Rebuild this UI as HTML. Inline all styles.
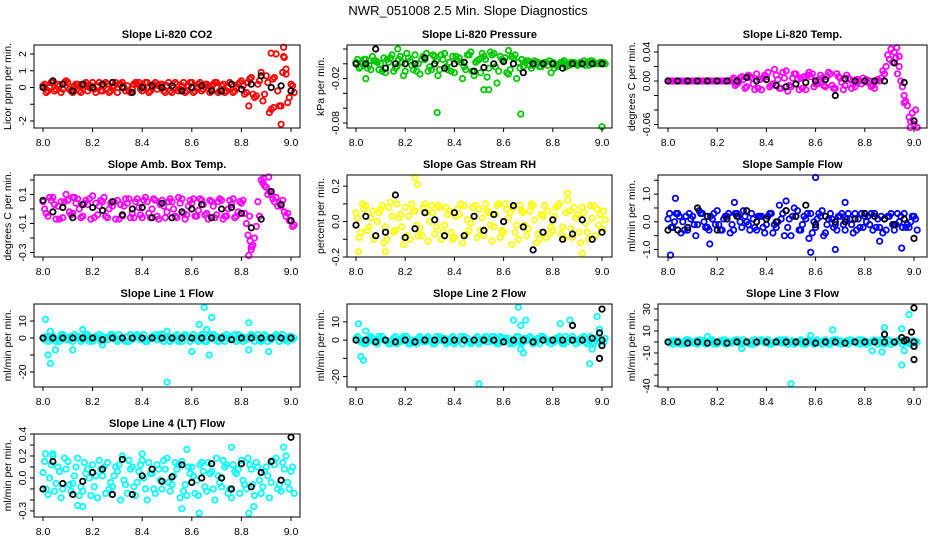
<!DOCTYPE html>
<html><head><meta charset="utf-8"><style>
html,body{margin:0;padding:0;background:#fff;}
svg{display:block;font-family:"Liberation Sans",sans-serif;}
</style></head><body>
<svg id="chart" width="936" height="540" viewBox="0 0 936 540" xmlns="http://www.w3.org/2000/svg">
<rect width="936" height="540" fill="#fff"/>
<text x="468" y="15" text-anchor="middle" font-size="13">NWR_051008  2.5 Min. Slope Diagnostics</text>
</svg>
<script>
const times=[8.00,8.02,8.04,8.06,8.08,8.10,8.12,8.14,8.16,8.18,8.20,8.22,8.24,8.26,8.28,8.30,8.32,8.34,8.36,8.38,8.40,8.42,8.44,8.46,8.48,8.50,8.52,8.54,8.56,8.58,8.60,8.62,8.64,8.66,8.68,8.70,8.72,8.74,8.76,8.78,8.80,8.82,8.84,8.86,8.88,8.90,8.92,8.94,8.96,8.98,9.00];
const blackTimes=[8.00,8.04,8.08,8.12,8.16,8.20,8.24,8.28,8.32,8.36,8.40,8.44,8.48,8.52,8.56,8.60,8.64,8.68,8.72,8.76,8.80,8.84,8.88,8.92,8.96,9.00];
const xTicks=[8.0,8.2,8.4,8.6,8.8,9.0];
const xTickLabels=["8.0","8.2","8.4","8.6","8.8","9.0"];

const co2A=[0.1,-0.2,0.3,0.2,-0.1,0.3,-0.3,0.2,0.1,-0.2,0.3,0.1,-0.2,0.2,0.0,-0.3,0.3,0.1,-0.1,0.2,-0.2,0.3,0.0,-0.1,0.2,0.1,-0.3,0.2,0.1,-0.2,0.3,0.0,-0.2,0.2,-0.1,0.3,0.1,-0.2,0.2,0.0,0.4,-0.3,0.6,-0.5,0.9,0.7,-1.3,2.0,-1.1,0.8,0.2];
const co2B=[-0.3,0.3,-0.1,-0.3,0.4,-0.2,0.2,-0.3,0.3,0.1,-0.3,-0.2,0.3,-0.2,0.3,0.2,-0.2,-0.3,0.3,-0.1,0.3,-0.2,0.3,0.2,-0.3,-0.2,0.3,-0.1,-0.3,0.3,-0.2,0.3,0.2,-0.3,0.3,-0.2,-0.3,0.3,-0.2,0.3,-0.4,0.5,-0.6,0.4,-0.4,-1.5,0.6,-1.1,1.8,-0.6,-0.3];
const co2C=[0.2,0.0,-0.2,0.1,0.3,-0.1,0.1,-0.2,0.2,0.0,-0.1,0.3,0.1,-0.3,0.1,0.2,0.0,-0.2,0.2,0.3,0.0,-0.3,0.2,0.1,-0.2,0.3,0.0,-0.2,0.3,0.1,-0.3,0.2,-0.1,0.1,0.2,-0.3,0.2,0.0,-0.3,0.2,0.1,0.3,-0.4,0.2,-0.8,0.3,0.5,-0.2,0.9,-0.9,0.1];
const co2Black=[0.0,0.4,0.2,-0.2,0.2,0.0,0.2,0.3,0.0,-0.3,0.0,0.1,0.0,0.1,-0.2,0.0,0.1,-0.2,-0.2,0.2,-0.1,0.2,0.7,0.0,0.1,-0.2];
const co2Out=[[8.97,2.4],[8.96,-2.2],[8.92,2.05],[8.83,-1.1],[8.97,1.85],[8.98,1.1],[8.93,-1.2]];

const presA=[0.002,-0.004,0.006,-0.008,0.004,0.000,-0.012,0.008,-0.006,0.010,-0.010,0.004,0.012,-0.014,0.006,-0.004,0.010,-0.008,0.014,0.002,-0.012,0.008,-0.004,0.012,-0.016,0.006,0.010,-0.006,0.014,-0.010,0.004,-0.014,0.008,0.002,-0.004,0.004,-0.002,0.002,0.000,-0.002,0.002,-0.004,0.002,0.000,0.002,-0.002,0.000,0.002,0.004,0.000,0.000];
const presB=[-0.006,0.006,-0.002,0.004,-0.008,0.008,0.002,-0.010,0.006,-0.016,0.008,-0.008,0.000,0.010,-0.010,0.012,-0.016,0.006,-0.008,0.010,0.004,-0.020,0.012,-0.010,0.004,0.014,-0.018,0.012,-0.026,0.006,-0.012,0.010,-0.020,0.006,0.004,-0.006,0.002,-0.004,0.002,-0.012,-0.002,0.002,-0.004,0.002,0.000,0.002,-0.002,0.004,0.000,0.002,0.000];
const presC=[0.006,0.000,-0.006,0.010,0.002,-0.010,0.006,0.012,-0.004,0.002,0.014,-0.002,-0.010,0.006,0.014,-0.008,0.004,0.012,-0.004,-0.010,0.010,0.002,-0.008,0.016,0.002,-0.012,0.006,0.016,-0.004,0.010,0.008,-0.008,0.012,-0.006,0.002,-0.002,0.004,-0.004,0.002,0.004,-0.006,0.000,0.004,-0.002,0.002,0.000,0.004,-0.002,0.002,0.000,0.002];
const presBlack=[0.000,0.000,0.020,-0.006,0.000,0.000,0.000,0.008,0.000,-0.006,0.000,0.002,-0.010,-0.005,0.000,0.003,0.000,-0.012,0.000,0.000,0.000,-0.006,0.000,0.000,0.000,0.000];
const presOut=[[8.33,-0.066],[8.67,-0.068],[9.0,-0.085],[8.52,-0.035],[8.54,-0.035],[8.04,-0.020],[8.17,0.020],[8.62,0.018]];

const tempA=[0,0,0,0,0,0,0,0,0,0,0,0,0,0.002,-0.004,0.006,-0.008,0.004,0.010,-0.012,0.006,-0.006,0.008,-0.010,0.014,-0.008,0.010,0.004,-0.012,0.006,-0.004,0.008,-0.008,0.010,-0.010,0.004,-0.006,0.002,-0.008,0.000,0.000,0.000,-0.010,0.000,0.010,0.030,0.040,0.020,-0.020,-0.050,-0.060];
const tempB=[0,0,0,0,0,0,0,0,0,0,0,0,0,-0.006,0.004,-0.010,0.006,-0.012,0.002,0.008,-0.008,0.016,-0.010,0.004,-0.006,0.010,-0.012,0.006,0.012,-0.008,0.002,-0.006,0.012,-0.010,0.006,-0.012,0.004,-0.004,0.002,0.004,-0.002,-0.006,0.002,0.014,0.036,0.026,0.010,-0.008,-0.034,-0.044,-0.064];
const tempC=[0,0,0,0,0,0,0,0,0,0,0,0,0,0.004,-0.002,0.002,0.008,-0.004,-0.010,0.004,0.012,-0.004,0.002,0.012,-0.014,0.004,0.002,-0.010,0.008,0.010,-0.004,0.004,0.006,-0.006,0.010,-0.002,0.008,-0.010,0.002,-0.004,0.002,-0.008,0.000,0.004,0.020,0.044,0.032,0.000,-0.028,-0.056,-0.040];
const tempBlack=[0,0,0,0,0,0,0,0,0.005,0.000,0.002,-0.006,-0.008,-0.004,-0.002,0.000,0.002,-0.020,0.003,0.000,0.000,0.000,0.000,0.025,-0.002,-0.055];
const tempOut=[[8.93,0.046],[8.94,0.034],[8.96,-0.030],[8.985,-0.064]];

const ambA=[0.05,-0.05,0.08,0.02,-0.06,0.06,-0.03,0.07,-0.05,0.03,0.09,-0.04,0.05,-0.06,0.02,0.06,-0.05,0.04,-0.03,0.07,-0.06,0.05,0.00,-0.05,0.06,-0.02,0.05,-0.06,0.07,-0.04,0.04,-0.05,0.06,-0.03,0.05,-0.04,0.06,-0.05,0.03,-0.05,0.04,-0.10,-0.28,-0.12,0.20,0.15,0.10,0.08,0.02,-0.05,-0.08];
const ambB=[-0.03,0.06,-0.07,0.05,0.10,-0.04,0.04,-0.06,0.06,-0.07,0.04,0.06,-0.05,0.04,-0.07,0.03,0.07,-0.06,0.05,-0.04,0.08,-0.06,0.06,0.03,-0.06,0.07,-0.05,0.04,-0.07,0.06,-0.05,0.07,-0.04,0.06,-0.06,0.07,-0.05,0.06,-0.06,0.05,-0.03,-0.05,-0.20,-0.05,0.16,0.12,0.05,0.04,-0.02,-0.08,-0.11];
const ambC=[0.00,0.08,0.03,-0.07,0.05,-0.02,0.08,0.00,0.04,0.07,-0.06,0.02,0.08,0.00,0.05,-0.07,0.02,0.07,-0.06,0.01,0.06,-0.03,0.07,-0.07,0.02,0.05,0.00,0.08,-0.03,0.02,0.07,-0.01,0.03,-0.07,0.02,0.05,-0.07,0.00,0.07,-0.02,0.06,-0.18,-0.25,0.05,0.18,0.10,0.07,0.02,0.06,-0.03,-0.12];
const ambBlack=[0.06,-0.02,0.01,-0.06,0.03,0.01,-0.01,0.05,-0.04,0.00,0.01,-0.06,0.04,-0.06,-0.02,0.00,0.03,-0.06,0.00,0.01,-0.03,-0.13,-0.07,0.12,0.03,-0.08];
const ambOut=[[8.83,-0.32],[8.835,-0.22],[8.84,-0.26],[8.89,0.21],[8.91,0.22],[8.12,0.08]];

const rhA=[0.05,-0.06,0.09,0.02,-0.08,0.07,-0.03,0.11,-0.05,0.04,0.08,-0.10,0.06,-0.04,0.10,0.00,-0.07,0.08,-0.02,0.06,-0.09,0.04,0.09,-0.05,0.03,0.07,-0.08,0.05,-0.03,0.10,-0.06,0.02,0.08,-0.10,0.05,-0.04,0.09,-0.07,0.03,0.06,-0.05,0.09,-0.03,0.12,-0.09,0.04,0.08,-0.06,0.02,0.07,-0.04];
const rhB=[-0.09,0.07,-0.03,-0.10,0.05,-0.12,0.08,-0.06,0.02,-0.13,0.03,0.06,-0.08,0.08,-0.11,0.05,0.09,-0.06,0.04,-0.10,0.07,-0.12,0.01,0.08,-0.09,0.02,0.06,-0.11,0.09,-0.05,0.07,-0.13,-0.02,0.06,-0.08,0.10,-0.12,0.04,-0.09,-0.03,0.08,-0.07,0.05,-0.04,0.02,-0.12,-0.01,0.09,-0.08,0.04,0.01];
const rhC=[0.02,0.10,-0.05,0.06,0.00,0.09,-0.10,0.03,0.10,-0.03,-0.08,0.10,-0.02,-0.08,0.05,0.09,-0.03,-0.10,0.08,-0.06,0.03,0.10,-0.07,-0.01,0.09,-0.05,0.10,-0.02,0.04,-0.09,0.10,0.05,-0.06,0.09,-0.02,0.06,0.01,-0.10,0.09,-0.07,0.03,0.10,-0.09,0.06,0.08,-0.06,0.05,-0.10,0.09,-0.02,0.06];
const rhBlack=[-0.02,0.03,-0.08,-0.06,0.15,-0.09,-0.04,0.05,0.01,-0.08,0.05,-0.08,0.03,-0.05,0.04,0.00,0.09,-0.03,-0.16,-0.06,0.01,-0.10,-0.07,0.01,-0.10,-0.06];
const rhOut=[[8.24,0.25],[8.25,0.21],[8.01,-0.17],[8.92,-0.18],[8.86,0.16],[8.12,-0.17]];

const flowA=[0.1,-0.2,0.3,0.0,-0.3,0.2,-0.1,0.3,-0.2,0.1,0.4,-0.3,0.2,-0.1,0.3,-0.2,0.0,0.3,-0.3,0.2,-0.1,0.3,-0.2,0.1,0.4,-0.5,0.2,-0.3,0.1,0.3,-0.2,0.2,-0.4,0.3,-0.1,0.2,-0.3,0.1,0.3,-0.2,0.2,-0.1,0.3,-0.2,0.1,0.2,-0.3,0.0,0.3,-0.2,0.2];
const flowB=[-0.2,0.3,-0.4,0.2,0.1,-0.5,0.3,-0.2,0.2,-0.1,-0.3,0.2,-0.4,0.3,0.0,0.2,-0.3,-0.2,0.2,-0.4,0.3,-0.1,0.6,-0.5,0.1,0.5,-0.3,0.2,-0.6,0.0,0.3,-0.5,0.1,-0.2,0.2,-0.1,0.3,-0.4,0.1,-0.2,0.2,-0.3,0.1,-0.4,0.2,-0.1,0.3,-0.2,-0.1,0.2,-0.3];
const flowC=[0.3,0.0,0.2,-0.3,0.3,-0.1,0.4,0.0,-0.3,0.3,-0.1,0.1,0.3,-0.3,0.2,0.4,-0.1,0.1,0.2,-0.2,0.2,-0.4,0.0,0.3,-0.2,0.2,0.4,-0.1,0.3,-0.4,0.1,0.4,-0.1,0.1,-0.3,0.3,0.1,-0.1,-0.3,0.3,0.0,0.3,-0.2,0.2,-0.3,0.3,-0.1,0.2,-0.2,0.0,0.1];
const flowBlack=[-0.3,-0.3,-0.2,0.5,0.2,-0.3,0.1,0.2,0.4,0.0,0.1,0.0,0.4,0.2,0.6,-0.1,0.2,0.0,0.0,0.1,0.3,0.2,0.1,-0.1,0.1,-0.6];
const flowOut=[[8.60,1.6],[8.01,-1.2],[8.03,0.85],[8.58,-1.1],[8.95,-0.95],[8.68,-1.0],[8.17,-0.8],[8.27,0.7],[8.48,0.75],[8.72,0.7],[8.86,-0.7]];

const l1A=[0,-2,1,-1,2,0,-2,1,-1,2,-2,0,1,-1,2,-2,0,1,-1,2,0,-2,1,-1,2,0,-1,2,-2,1,0,-1,2,-2,0,1,-1,2,0,-2,1,-1,2,0,-2,1,-1,2,0,-1,1];
const l1B=[1,-1,-2,2,-1,1,0,-2,2,-1,1,-2,0,2,-1,0,-2,2,1,-1,-2,0,2,-1,0,-2,1,-1,2,-2,0,1,-2,2,-1,0,-2,1,2,-1,0,1,-2,-1,2,0,1,-2,-1,1,0];
const l1C=[-1,1,0,-2,1,-1,2,0,1,-2,0,2,-1,1,0,2,-1,-2,0,1,2,-1,0,2,-2,1,0,-2,1,0,2,-2,0,1,2,-2,1,0,-1,2,-2,0,1,2,-1,-2,0,1,2,-2,-1];
const l1Black=[0,0,0,0,0,0,-1,0,0,0,0,0,0,0,0,0,0,0,0,-1,0,0,0,0,0,0];
const l1Out=[[8.01,11],[8.02,-10],[8.03,-15],[8.03,4],[8.05,-7],[8.12,-7],[8.16,5],[8.50,-26],[8.50,4],[8.60,-8],[8.63,8],[8.65,18],[8.67,-10],[8.68,12],[8.66,5],[8.83,9],[8.83,-7],[8.91,-8],[8.24,-4]];
const l1BlackOut=[];

const l2A=[1,-1,-2,2,-1,1,0,-2,2,-1,1,-2,0,2,-1,0,-2,2,1,-1,-2,0,2,-1,0,-2,1,-1,2,-2,0,1,-2,2,-1,0,-2,1,2,-1,0,1,-2,-1,2,0,1,-2,-1,1,0];
const l2B=[0,-2,1,-1,2,0,-2,1,-1,2,-2,0,1,-1,2,-2,0,1,-1,2,0,-2,1,-1,2,0,-1,2,-2,1,0,-1,2,-2,0,1,-1,2,0,-2,1,-1,2,0,-2,1,-1,2,0,-1,1];
const l2C=[2,0,-1,1,-2,2,-1,0,-2,1,2,-1,-2,0,1,-1,2,0,-2,1,-1,2,0,-2,1,-1,2,0,-1,2,1,-2,0,-1,1,2,0,-2,1,0,-1,2,-2,1,0,-1,2,0,-2,1,-1];
const l2Black=[0,0,-1,0,-1,0,-1,0,0,0,0,0,0,0,0,-1,0,0,-1,0,0,0,0,0,1,0];
const l2Out=[[8.01,9],[8.02,-9],[8.03,-11],[8.04,5],[8.50,-24],[8.64,11],[8.66,18],[8.67,8],[8.68,-7],[8.69,11],[8.83,9],[8.87,11],[8.95,-13],[8.96,-5],[8.98,13],[8.99,6],[8.67,-5]];
const l2BlackOut=[[9.0,17],[8.99,4],[9.0,-3],[8.99,-10],[8.88,8]];

const l3A=[0,-2,1,-1,2,0,-2,1,-1,2,-2,0,1,-1,2,-2,0,1,-1,2,0,-2,1,-1,2,0,-1,2,-2,1,0,-1,2,-2,0,1,-1,2,0,-2,1,-1,2,0,-2,1,-1,2,0,-1,1];
const l3B=[1,-1,-2,2,-1,1,0,-2,2,-1,1,-2,0,2,-1,0,-2,2,1,-1,-2,0,2,-1,0,-2,1,-1,2,-2,0,1,-2,2,-1,0,-2,1,2,-1,0,1,-2,-1,2,0,1,-2,-1,1,0];
const l3C=[-1,1,0,-2,1,-1,2,0,1,-2,0,2,-1,1,0,2,-1,-2,0,1,2,-1,0,2,-2,1,0,-2,1,0,2,-2,0,1,2,-2,1,0,-1,2,-2,0,1,2,-1,-2,0,1,2,-2,-1];
const l3Black=[0,0,-1,0,-1,0,-1,0,0,0,0,0,0,0,0,-1,0,0,-1,0,0,0,0,0,1,0];
const l3Out=[[8.50,-38],[8.67,11],[8.88,13],[8.95,12],[8.98,25],[8.95,-21],[8.96,-8],[8.83,-8],[8.87,-9],[8.30,-6],[8.58,6],[8.16,5]];
const l3BlackOut=[[9.0,31],[8.99,9],[9.0,-4],[9.0,-16],[8.88,7],[8.95,4],[8.97,2]];

const l4A=[0.05,-0.15,0.20,0.10,-0.10,0.15,-0.05,0.18,-0.12,0.08,0.12,-0.18,0.02,0.14,-0.08,0.06,0.20,-0.14,0.10,-0.04,0.16,-0.20,0.04,0.12,-0.10,0.18,-0.06,0.08,0.15,-0.16,0.10,-0.02,0.14,-0.12,0.06,0.18,-0.08,0.12,-0.18,0.04,0.16,-0.10,0.08,0.14,-0.14,0.10,-0.04,0.18,-0.12,0.20,0.06];
const l4B=[-0.10,0.12,-0.05,-0.18,0.08,-0.12,0.10,-0.08,0.04,-0.16,0.02,0.08,-0.14,-0.04,0.10,-0.20,-0.06,0.08,-0.16,0.12,-0.10,0.04,-0.14,-0.02,0.08,-0.12,0.14,-0.18,-0.06,0.04,-0.14,0.12,-0.08,0.04,-0.20,-0.04,0.10,-0.10,0.06,-0.14,-0.06,0.12,-0.16,-0.02,0.06,-0.18,0.12,-0.06,0.08,-0.10,-0.14];
const l4C=[0.15,0.00,-0.12,0.06,0.18,-0.06,0.02,-0.16,0.14,0.00,-0.08,0.16,0.10,-0.10,0.02,0.12,-0.02,0.16,-0.08,0.06,0.00,0.14,-0.10,0.08,0.16,-0.04,0.02,0.12,-0.12,0.10,0.02,-0.16,0.06,0.14,-0.10,0.02,0.16,-0.14,0.12,0.08,-0.02,0.18,-0.06,0.10,-0.08,0.02,0.16,-0.10,0.14,-0.04,0.10];
const l4Black=[-0.10,0.15,-0.05,-0.15,-0.03,0.05,0.08,-0.15,0.17,-0.15,0.02,0.08,-0.03,0.01,0.12,-0.04,0.00,0.13,0.00,-0.10,0.13,-0.08,0.05,0.15,-0.02,0.37];
const l4Out=[[8.14,-0.25],[8.16,-0.26],[8.40,0.22],[8.58,0.26],[8.63,-0.32],[8.76,0.28],[8.83,-0.32],[8.85,-0.26],[8.56,-0.28],[8.97,0.28],[8.01,0.22],[8.04,0.22]];

const co2Ticks=[-2,-1,0,1,2], co2Labels=["-2","","0","1","2"];
const presTicks=[0.02,0.00,-0.02,-0.04,-0.06,-0.08], presLabels=["","","-0.02","","","-0.08"];
const tempTicks=[0.04,0.02,0.00,-0.02,-0.04,-0.06], tempLabels=["0.04","","0.00","","","-0.06"];
const ambTicks=[0.2,0.1,0,-0.1,-0.2,-0.3], ambLabels=["","0.1","","-0.1","","-0.3"];
const rhTicks=[0.2,0.1,0,-0.1,-0.2], rhLabels=["0.2","","0.0","","-0.2"];
const flowTicks=[1.5,1.0,0.5,0,-0.5,-1.0], flowLabels=["","1.0","","0.0","","-1.0"];
const l1Ticks=[10,0,-10,-20], l1Labels=["10","0","","-20"];
const l2Ticks=[10,0,-10,-20], l2Labels=["10","0","","-20"];
const l3Ticks=[30,20,10,0,-10,-20,-30,-40], l3Labels=["30","","10","","-10","","","-40"];
const l4Ticks=[0.4,0.3,0.2,0.1,0.0,-0.1,-0.2,-0.3], l4Labels=["0.4","","0.2","","0.0","","","-0.3"];

const cols=[{x0:34,x1:300,a:43,b:291},{x0:347,x1:612,a:356,b:602},{x0:658,x1:927,a:668,b:914}];
const rows=[{y0:45,y1:128},{y0:175,y1:257},{y0:304,y1:387},{y0:434,y1:517}];

const panels=[
 {name:"co2",title:"Slope Li-820 CO2",ylab:"Licor ppm per min.",c:0,r:0,yTop:2.54,yBot:-2.42,col:"#ff0000",A:co2A,B:co2B,C:co2C,K:co2Black,O:co2Out,KO:[],ticks:co2Ticks,labels:co2Labels},
 {name:"pressure",title:"Slope Li-820 Pressure",ylab:"kPa per min.",c:1,r:0,yTop:0.0254,yBot:-0.0868,col:"#00c800",A:presA,B:presB,C:presC,K:presBlack,O:presOut,KO:[],ticks:presTicks,labels:presLabels},
 {name:"temp",title:"Slope Li-820 Temp.",ylab:"degrees C per min.",c:2,r:0,yTop:0.0497,yBot:-0.0648,col:"#ff00ff",A:tempA,B:tempB,C:tempC,K:tempBlack,O:tempOut,KO:[],ticks:tempTicks,labels:tempLabels},
 {name:"amb-box-temp",title:"Slope Amb. Box Temp.",ylab:"degrees C per min.",c:0,r:1,yTop:0.234,yBot:-0.331,col:"#ff00ff",A:ambA,B:ambB,C:ambC,K:ambBlack,O:ambOut,KO:[],ticks:ambTicks,labels:ambLabels},
 {name:"gas-stream-rh",title:"Slope Gas Stream RH",ylab:"percent per min.",c:1,r:1,yTop:0.263,yBot:-0.2,col:"#ffff00",A:rhA,B:rhB,C:rhC,K:rhBlack,O:rhOut,KO:[],ticks:rhTicks,labels:rhLabels},
 {name:"sample-flow",title:"Slope Sample Flow",ylab:"ml/min per min.",c:2,r:1,yTop:1.69,yBot:-1.27,col:"#0000ff",A:flowA,B:flowB,C:flowC,K:flowBlack,O:flowOut,KO:[],ticks:flowTicks,labels:flowLabels},
 {name:"line1-flow",title:"Slope Line 1 Flow",ylab:"ml/min per min.",c:0,r:2,yTop:20,yBot:-28.8,col:"#00ffff",A:l1A,B:l1B,C:l1C,K:l1Black,O:l1Out,KO:l1BlackOut,ticks:l1Ticks,labels:l1Labels},
 {name:"line2-flow",title:"Slope Line 2 Flow",ylab:"ml/min per min.",c:1,r:2,yTop:19.8,yBot:-25.7,col:"#00ffff",A:l2A,B:l2B,C:l2C,K:l2Black,O:l2Out,KO:l2BlackOut,ticks:l2Ticks,labels:l2Labels},
 {name:"line3-flow",title:"Slope Line 3 Flow",ylab:"ml/min per min.",c:2,r:2,yTop:34.5,yBot:-40.9,col:"#00ffff",A:l3A,B:l3B,C:l3C,K:l3Black,O:l3Out,KO:l3BlackOut,ticks:l3Ticks,labels:l3Labels},
 {name:"line4-flow",title:"Slope Line 4 (LT) Flow",ylab:"ml/min per min.",c:0,r:3,yTop:0.4,yBot:-0.355,col:"#00ffff",A:l4A,B:l4B,C:l4C,K:l4Black,O:l4Out,KO:[],ticks:l4Ticks,labels:l4Labels}
];

const NS="http://www.w3.org/2000/svg";
const svg=document.getElementById('chart');
function mk(tag,attrs,parent){const e=document.createElementNS(NS,tag);for(const k in attrs)e.setAttribute(k,attrs[k]);parent.appendChild(e);return e;}

panels.forEach(p=>{
 const C=cols[p.c],R=rows[p.r];
 const xs=v=>C.a+(v-8)*(C.b-C.a);
 const ys=v=>R.y1-(v-p.yBot)/(p.yTop-p.yBot)*(R.y1-R.y0);
 const g=mk('g',{},svg);
 
 
 const t=mk('text',{x:(C.x0+C.x1)/2,y:R.y0-7,'text-anchor':'middle','font-size':'11','font-weight':'bold'},g);
 t.textContent=p.title;
 
 
 const yl=mk('text',{transform:`translate(${C.x0-23},${(R.y0+R.y1)/2}) rotate(-90)`,'text-anchor':'middle','font-size':'10.5'},g);
 yl.textContent=p.ylab;
 
 
 const pts=mk('g',{fill:'none','stroke-width':'1.8'},g);
 
 
 const dot=(x,y,color,nm)=>{const c=mk('circle',{cx:xs(x).toFixed(1),cy:ys(y).toFixed(1),r:'2.7',stroke:color},pts);
  
  };
 times.forEach((x,i)=>{dot(x,p.A[i],p.col,p.name+'-point');dot(x+0.0065,p.C[i],p.col,p.name+'-point');dot(x+0.013,p.B[i],p.col,p.name+'-point');});
 p.O.forEach(o=>dot(o[0],o[1],p.col,p.name+'-outlier'));
 blackTimes.forEach((x,i)=>dot(x,p.K[i],'#000',p.name+'-black-point'));
 p.KO.forEach(o=>dot(o[0],o[1],'#000',p.name+'-black-point'));
 const bx=mk('rect',{x:C.x0,y:R.y0,width:C.x1-C.x0,height:R.y1-R.y0,fill:'none',stroke:'#000','stroke-width':'1'},g);
 
 
 const xa=mk('g',{},g);
 
 
 mk('line',{x1:xs(8),x2:xs(9),y1:R.y1,y2:R.y1,stroke:'#000'},xa);
 xTicks.forEach((v,i)=>{mk('line',{x1:xs(v),x2:xs(v),y1:R.y1,y2:R.y1+4,stroke:'#000'},xa);
  const l=mk('text',{x:xs(v),y:R.y1+18,'text-anchor':'middle','font-size':'10.5'},xa);l.textContent=xTickLabels[i];
  
  });
 const ya=mk('g',{},g);
 
 
 mk('line',{x1:C.x0,x2:C.x0,y1:ys(p.ticks[0]),y2:ys(p.ticks[p.ticks.length-1]),stroke:'#000'},ya);
 p.ticks.forEach((v,i)=>{const y=ys(v);mk('line',{x1:C.x0-4,x2:C.x0,y1:y,y2:y,stroke:'#000'},ya);
  if(p.labels[i]){const l=mk('text',{transform:`translate(${C.x0-8},${y}) rotate(-90)`,'text-anchor':'middle','font-size':'10.5'},ya);l.textContent=p.labels[i];
  
  }});
});
</script>
</body></html>
